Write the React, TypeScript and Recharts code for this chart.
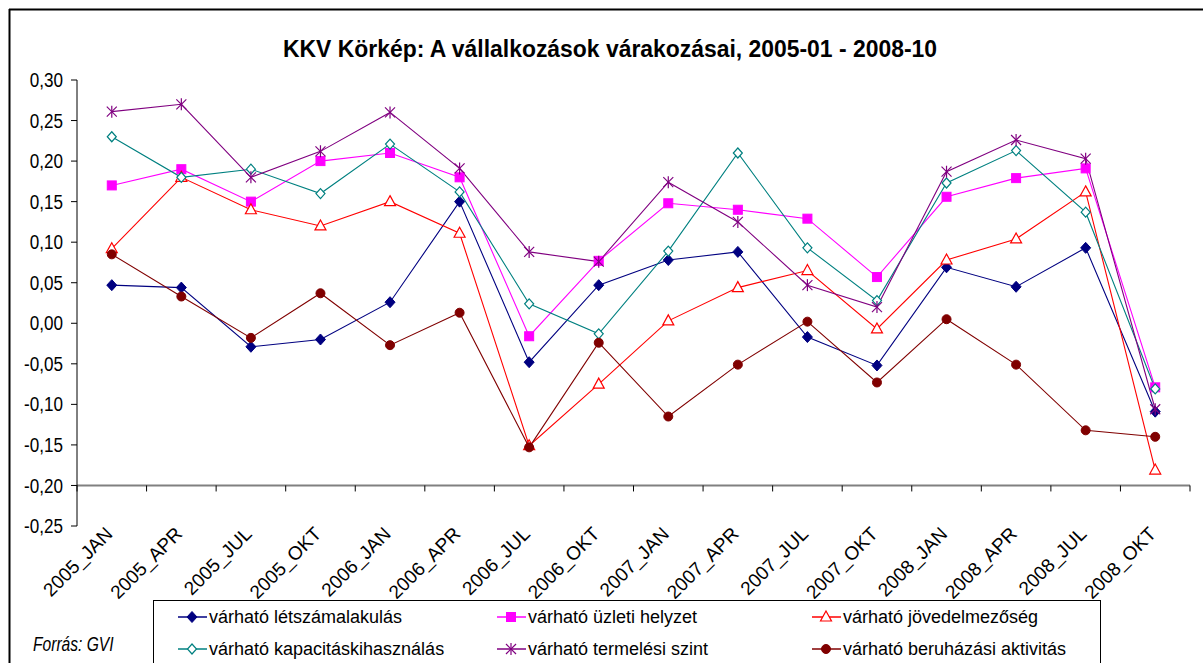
import React from 'react';
import { LineChart, Line, XAxis, YAxis, ReferenceLine } from 'recharts';

const categories = ['2005_JAN', '2005_APR', '2005_JUL', '2005_OKT', '2006_JAN', '2006_APR', '2006_JUL', '2006_OKT', '2007_JAN', '2007_APR', '2007_JUL', '2007_OKT', '2008_JAN', '2008_APR', '2008_JUL', '2008_OKT'];

const letszam = [0.047, 0.044, -0.029, -0.020, 0.026, 0.150, -0.048, 0.047, 0.078, 0.088, -0.017, -0.052, 0.069, 0.045, 0.093, -0.109];
const uzleti = [0.170, 0.190, 0.150, 0.200, 0.210, 0.180, -0.016, 0.077, 0.148, 0.140, 0.129, 0.057, 0.156, 0.179, 0.191, -0.079];
const jovedelem = [0.092, 0.180, 0.140, 0.120, 0.150, 0.111, -0.151, -0.075, 0.003, 0.044, 0.065, -0.007, 0.078, 0.104, 0.162, -0.181];
const kapacitas = [0.230, 0.180, 0.190, 0.160, 0.221, 0.162, 0.024, -0.013, 0.089, 0.210, 0.093, 0.028, 0.173, 0.213, 0.137, -0.081];
const termeles = [0.261, 0.270, 0.180, 0.212, 0.260, 0.191, 0.088, 0.076, 0.174, 0.125, 0.047, 0.020, 0.187, 0.226, 0.203, -0.106];
const beruhazas = [0.085, 0.033, -0.018, 0.037, -0.027, 0.013, -0.153, -0.024, -0.115, -0.051, 0.002, -0.073, 0.005, -0.051, -0.132, -0.140];

const yTicks = [-0.25, -0.2, -0.15, -0.1, -0.05, 0, 0.05, 0.1, 0.15, 0.2, 0.25, 0.3];
const axisCrossValue = -0.2;

const title = 'KKV Körkép: A vállalkozások várakozásai, 2005-01 - 2008-10';
const sourceNote = 'Forrás: GVI';

type MarkerKind = 'diamond' | 'square' | 'triangle' | 'openDiamond' | 'star' | 'circle';

const series: { key: string; name: string; color: string; marker: MarkerKind; values: number[] }[] = [
  { key: 'letszam', name: 'várható létszámalakulás', color: '#000080', marker: 'diamond', values: letszam },
  { key: 'uzleti', name: 'várható üzleti helyzet', color: '#FF00FF', marker: 'square', values: uzleti },
  { key: 'jovedelem', name: 'várható jövedelmezőség', color: '#FF0000', marker: 'triangle', values: jovedelem },
  { key: 'kapacitas', name: 'várható kapacitáskihasználás', color: '#008080', marker: 'openDiamond', values: kapacitas },
  { key: 'termeles', name: 'várható termelési szint', color: '#800080', marker: 'star', values: termeles },
  { key: 'beruhazas', name: 'várható beruházási aktivitás', color: '#800000', marker: 'circle', values: beruhazas },
];

const data = categories.map((cat, i) => {
  const row: Record<string, any> = { cat };
  series.forEach((s) => {
    row[s.key] = s.values[i];
  });
  return row;
});

const FONT = '"Liberation Sans", Arial, sans-serif';
const W = 1203;
const H = 663;
const plotLeft = 77;
const plotRightMargin = 13;
const plotWidth = W - plotLeft - plotRightMargin;
const halfBand = plotWidth / categories.length / 2;

function Marker({ kind, cx, cy, color }: { kind: MarkerKind; cx: number; cy: number; color: string }) {
  if (cx == null || cy == null || isNaN(cx) || isNaN(cy)) return null;
  switch (kind) {
    case 'diamond':
      return <polygon points={`${cx},${cy - 5.5} ${cx + 5},${cy} ${cx},${cy + 5.5} ${cx - 5},${cy}`} fill={color} stroke={color} strokeWidth={1} />;
    case 'square':
      return <rect x={cx - 4.5} y={cy - 4.5} width={9} height={9} fill={color} stroke={color} strokeWidth={1} />;
    case 'triangle':
      return <polygon points={`${cx},${cy - 6} ${cx + 5.5},${cy + 4} ${cx - 5.5},${cy + 4}`} fill="#fff" stroke={color} strokeWidth={1.2} />;
    case 'openDiamond':
      return <polygon points={`${cx},${cy - 5} ${cx + 4.5},${cy} ${cx},${cy + 5} ${cx - 4.5},${cy}`} fill="#fff" stroke={color} strokeWidth={1.2} />;
    case 'star':
      return (
        <g stroke={color} strokeWidth={1.2}>
          <line x1={cx} y1={cy - 6} x2={cx} y2={cy + 6} />
          <line x1={cx - 5} y1={cy - 5} x2={cx + 5} y2={cy + 5} />
          <line x1={cx - 5} y1={cy + 5} x2={cx + 5} y2={cy - 5} />
        </g>
      );
    case 'circle':
      return <circle cx={cx} cy={cy} r={4.5} fill={color} stroke={color} strokeWidth={1} />;
  }
  return null;
}

const fmt = (v: number) => v.toFixed(2).replace('.', ',');

const YTick = (props: any) => {
  const { x, y, payload } = props;
  return (
    <text
      x={0}
      y={0}
      transform={`translate(${x},${y}) scale(0.9,1.1)`}
      textAnchor="end"
      dominantBaseline="central"
      fontSize={19}
      fontFamily={FONT}
      fill="#000"
    >
      {fmt(payload.value)}
    </text>
  );
};

const XTick = (props: any) => {
  const { x, y, payload } = props;
  return (
    <text
      x={0}
      y={0}
      transform={`translate(${x + 2},${y + 1}) rotate(-45)`}
      textAnchor="end"
      fontSize={19}
      fontFamily={FONT}
      fill="#000"
    >
      {payload.value}
    </text>
  );
};

const CrossAxis = (props: any) => {
  const x1 = props.x1 ?? props.points?.[0]?.x;
  const x2 = props.x2 ?? props.points?.[1]?.x;
  const y = props.y1 ?? props.points?.[0]?.y;
  if (x1 == null || x2 == null || y == null) return null;
  const n = categories.length;
  const step = (x2 - x1) / n;
  const ticks = [];
  for (let i = 0; i <= n; i++) {
    ticks.push(<line key={i} x1={x1 + i * step} y1={y} x2={x1 + i * step} y2={y + 6} stroke="#000" strokeWidth={1} />);
  }
  return (
    <g>
      <line x1={x1} y1={y} x2={x2} y2={y} stroke="#808080" strokeWidth={2} />
      {ticks}
    </g>
  );
};

export default function App() {
  const legendCols = [178, 497, 812];
  const legendRows = [623, 655];
  return (
    <div style={{ position: 'absolute', left: 0, top: 0, width: W, height: H, background: '#fff', overflow: 'hidden' }}>
      <LineChart
        width={W}
        height={H}
        data={data}
        margin={{ top: 80, right: plotRightMargin, bottom: 37, left: 0 }}
      >
        <YAxis
          width={plotLeft}
          domain={[-0.25, 0.3]}
          ticks={yTicks}
          interval={0}
          allowDataOverflow
          axisLine={{ stroke: '#000', strokeWidth: 1 }}
          tickLine={{ stroke: '#000', strokeWidth: 1 }}
          tickSize={6}
          tickMargin={8}
          tick={<YTick />}
        />
        <XAxis
          dataKey="cat"
          interval={0}
          height={100}
          axisLine={false}
          tickLine={false}
          padding={{ left: halfBand, right: halfBand }}
          tick={<XTick />}
        />
        <ReferenceLine y={axisCrossValue} shape={(p: any) => <CrossAxis {...p} />} />
        {series.map((s) => (
          <Line
            key={s.key}
            dataKey={s.key}
            name={s.name}
            stroke={s.color}
            strokeWidth={1.1}
            isAnimationActive={false}
            dot={(p: any) => <Marker key={`${s.key}-${p.index}`} kind={s.marker} cx={p.cx} cy={p.cy} color={s.color} />}
            activeDot={false}
          />
        ))}
      </LineChart>
      <svg
        width={W}
        height={H}
        style={{ position: 'absolute', left: 0, top: 0, pointerEvents: 'none' }}
      >
        <line x1={9.5} y1={9} x2={9.5} y2={H} stroke="#000" strokeWidth={2} />
        <line x1={9} y1={9.5} x2={W} y2={9.5} stroke="#000" strokeWidth={2} />
        <text
          x={610}
          y={57}
          textAnchor="middle"
          fontSize={23}
          fontWeight="bold"
          fontFamily={FONT}
          textLength={654}
          lengthAdjust="spacingAndGlyphs"
          fill="#000"
        >
          {title}
        </text>
        <text
          x={0}
          y={0}
          transform="translate(33,651) scale(0.78,1)"
          fontSize={20}
          fontStyle="italic"
          fontFamily={FONT}
          fill="#000"
        >
          {sourceNote}
        </text>
        <rect x={153.5} y={600.5} width={947} height={80} fill="#fff" stroke="#000" strokeWidth={1} />
        {series.map((s, i) => {
          const col = i % 3;
          const row = Math.floor(i / 3);
          const x0 = legendCols[col];
          const yb = legendRows[row];
          const cy = yb - 6;
          return (
            <g key={s.key}>
              <line x1={x0} y1={cy} x2={x0 + 29} y2={cy} stroke={s.color} strokeWidth={1.5} />
              <Marker kind={s.marker} cx={x0 + 14} cy={cy} color={s.color} />
              <text x={x0 + 31} y={yb} fontSize={18} fontFamily={FONT} fill="#000">
                {s.name}
              </text>
            </g>
          );
        })}
      </svg>
    </div>
  );
}
